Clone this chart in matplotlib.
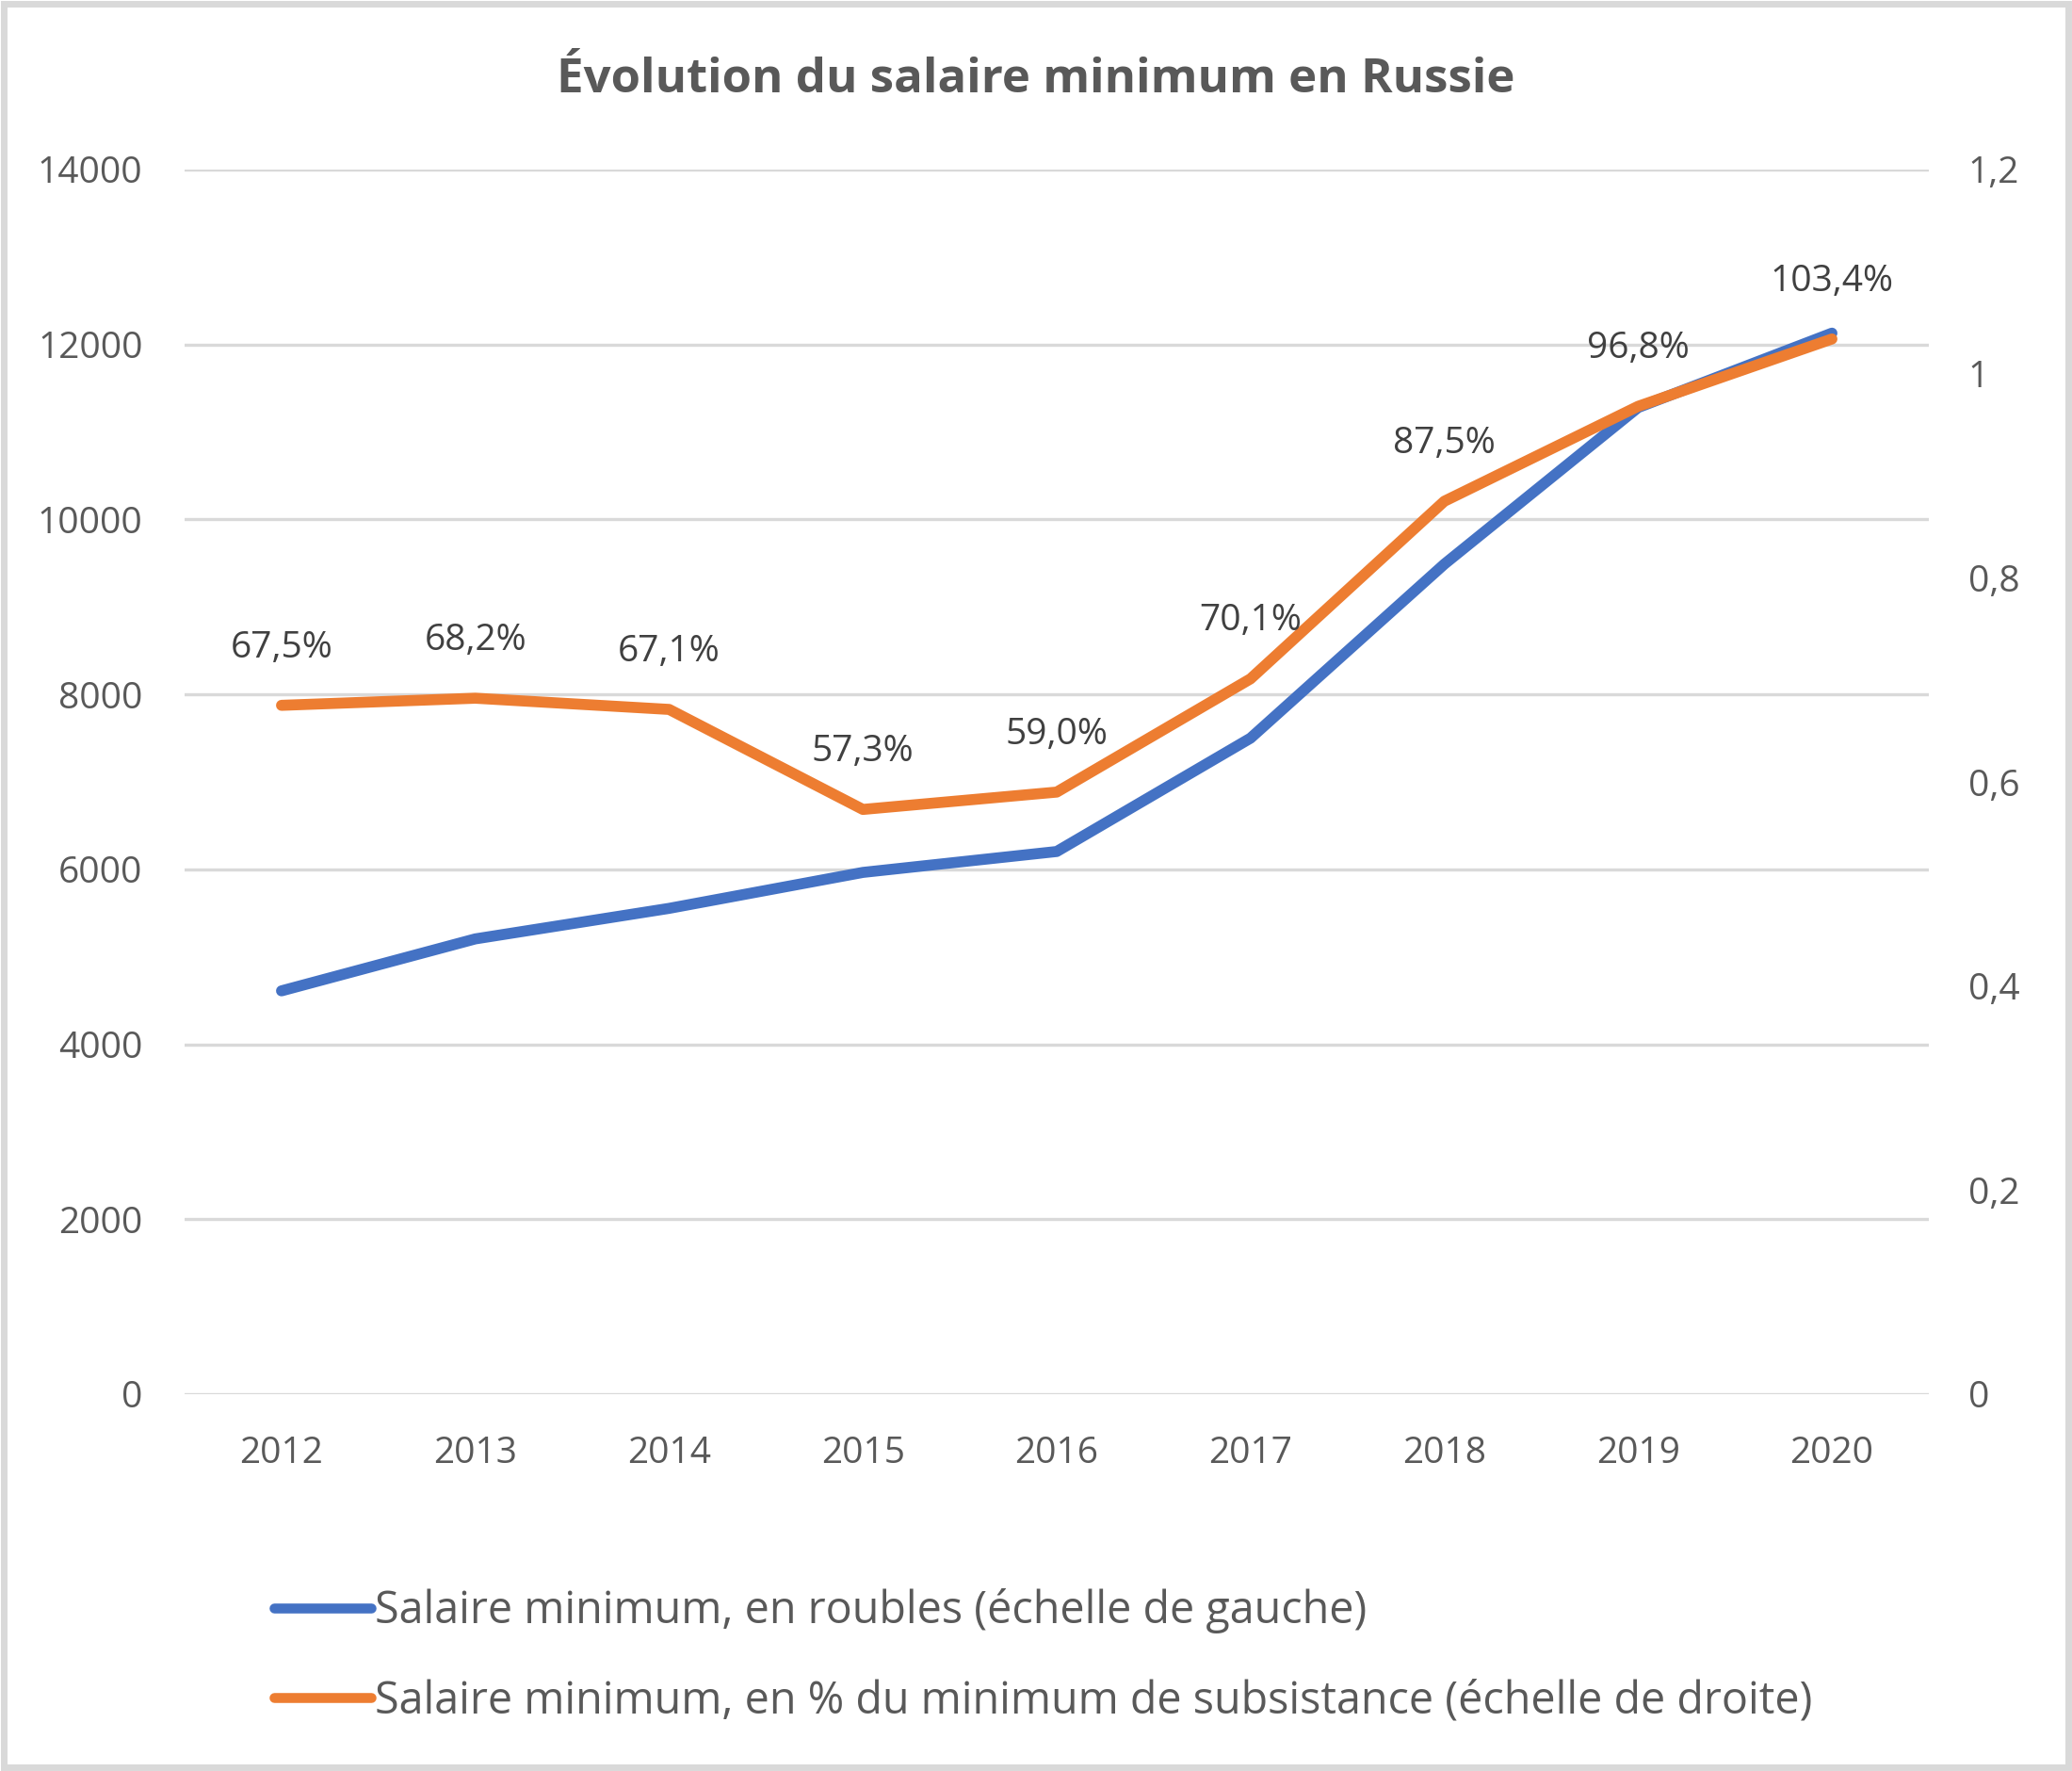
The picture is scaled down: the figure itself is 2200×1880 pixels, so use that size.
import matplotlib
matplotlib.use("Agg")
import matplotlib.pyplot as plt
from matplotlib.lines import Line2D
from matplotlib.patches import Rectangle
from matplotlib.ticker import FixedLocator, FuncFormatter

years = ["2012", "2013", "2014", "2015", "2016", "2017", "2018", "2019", "2020"]
wage_rub = [4611, 5205, 5554, 5965, 6204, 7500, 9489, 11280, 12130]
wage_pct = [0.675, 0.682, 0.671, 0.573, 0.590, 0.701, 0.875, 0.968, 1.034]
pct_labels = ["67,5%", "68,2%", "67,1%", "57,3%", "59,0%", "70,1%", "87,5%", "96,8%", "103,4%"]
left_ticks = [0, 2000, 4000, 6000, 8000, 10000, 12000, 14000]
right_ticks = [0, 0.2, 0.4, 0.6, 0.8, 1.0, 1.2]
title = "Évolution du salaire minimum en Russie"
legend_labels = ["Salaire minimum, en roubles (échelle de gauche)",
                 "Salaire minimum, en % du minimum de subsistance (échelle de droite)"]

BLUE = "#4472C4"
ORANGE = "#ED7D31"
GRID = "#D9D9D9"
TXT = "#595959"
FONT = ["Open Sans", "DejaVu Sans"]

plt.rcParams['font.family'] = FONT

fig = plt.figure(figsize=(11, 9.4), dpi=200)
ax = fig.add_axes([196/2200, 1 - 1480/1880, (2048-196)/2200, (1480-180)/1880])
ax2 = ax.twinx()

x = list(range(len(years)))
ax.plot(x, wage_rub, color=BLUE, lw=4.2, solid_capstyle='round', solid_joinstyle='round', zorder=3)
ax2.plot(x, wage_pct, color=ORANGE, lw=4.2, solid_capstyle='round', solid_joinstyle='round', zorder=3)

for xi, v, lab in zip(x, wage_pct, pct_labels):
    ax2.annotate(lab, (xi, v), xytext=(0, 22), textcoords='offset points',
                 ha='center', va='center', fontsize=14, color="#404040")

ax.set_xlim(-0.5, len(years) - 0.5)
ax.set_ylim(0, 14000)
ax2.set_ylim(0, 1.2)
ax.set_xticks(x)
ax.set_xticklabels(years)
ax.yaxis.set_major_locator(FixedLocator(left_ticks))
ax2.yaxis.set_major_locator(FixedLocator(right_ticks))
ax.yaxis.set_major_formatter(FuncFormatter(lambda v, p: f"{int(v)}"))
def rfmt(v, p):
    s = f"{v:.1f}".rstrip('0').rstrip('.')
    return s.replace('.', ',')
ax2.yaxis.set_major_formatter(FuncFormatter(rfmt))

ax.grid(axis='y', color=GRID, lw=1.2)
ax.set_axisbelow(True)
for a in (ax, ax2):
    for s in a.spines.values():
        s.set_visible(False)
    a.tick_params(length=0, labelsize=14, colors=TXT)
ax.tick_params(axis='y', pad=16)
ax2.tick_params(axis='y', pad=15)
ax.tick_params(axis='x', pad=16)

fig.text(0.5, 1 - 85/1880, title, ha='center', va='center', fontsize=18.3,
         fontweight='bold', color=TXT, family=['Liberation Sans Narrow', 'Open Sans', 'DejaVu Sans'])

handles = [Line2D([], [], color=BLUE, lw=3.8, solid_capstyle='round'),
           Line2D([], [], color=ORANGE, lw=3.8, solid_capstyle='round')]
leg = fig.legend(handles, legend_labels, loc='center left',
                 bbox_to_anchor=(249/2200, 1 - 1758/1880), frameon=False,
                 fontsize=16.8, handlelength=2.2, handletextpad=0.1, labelspacing=1.02,
                 labelcolor=TXT)

fig.patches.append(Rectangle((0.002, 0.002), 0.996, 0.996, transform=fig.transFigure,
                             fill=False, edgecolor=GRID, lw=2.5))

fig.savefig("out.png", dpi=200, facecolor='white')
